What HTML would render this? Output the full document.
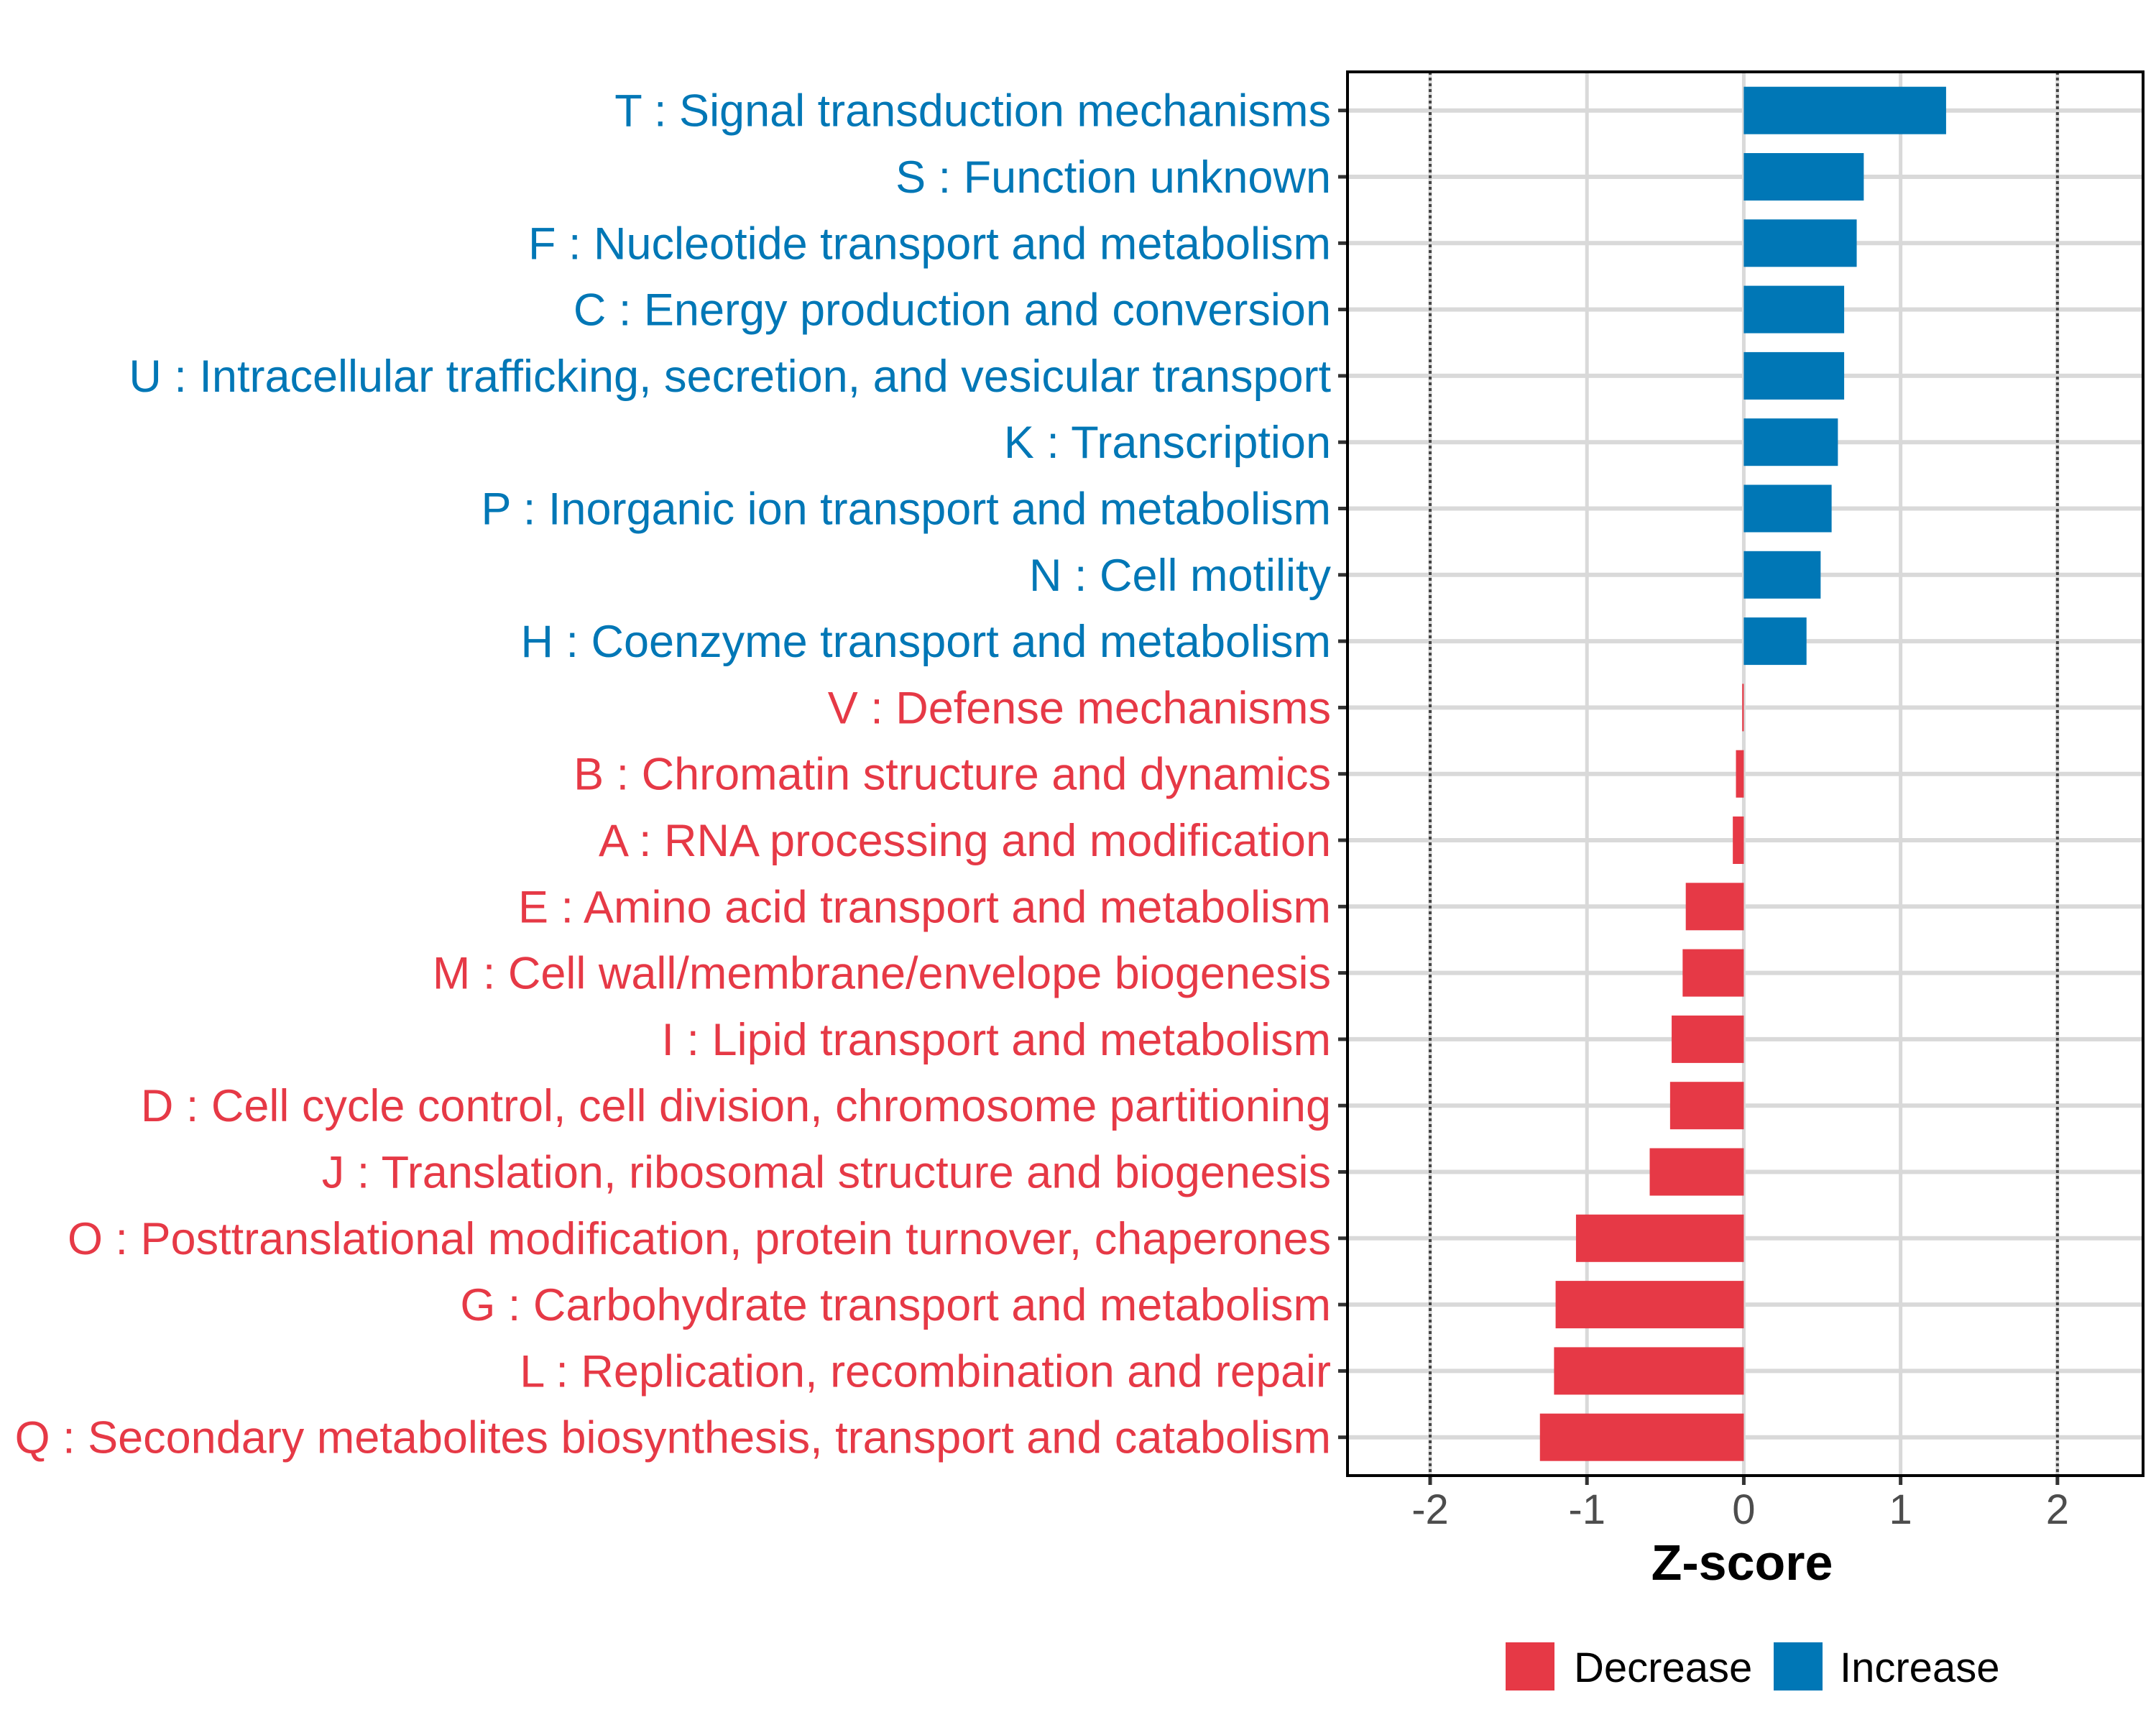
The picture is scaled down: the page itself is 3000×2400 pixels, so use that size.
<!DOCTYPE html>
<html><head><meta charset="utf-8"><style>
html,body{margin:0;padding:0;background:#fff;}
svg{display:block;font-family:"Liberation Sans",sans-serif;}
</style></head><body>
<svg id="chart" width="3000" height="2400" viewBox="0 0 3000 2400" xmlns="http://www.w3.org/2000/svg">
<rect width="3000" height="2400" fill="#fff"/>
<g id="grid"></g>
<g id="bars"></g>
<g id="ylabels"></g>
<g id="xaxis"></g>
</svg>
<script>
const categories = ["T : Signal transduction mechanisms","S : Function unknown","F : Nucleotide transport and metabolism","C : Energy production and conversion","U : Intracellular trafficking, secretion, and vesicular transport","K : Transcription","P : Inorganic ion transport and metabolism","N : Cell motility","H : Coenzyme transport and metabolism","V : Defense mechanisms","B : Chromatin structure and dynamics","A : RNA processing and modification","E : Amino acid transport and metabolism","M : Cell wall/membrane/envelope biogenesis","I : Lipid transport and metabolism","D : Cell cycle control, cell division, chromosome partitioning","J : Translation, ribosomal structure and biogenesis","O : Posttranslational modification, protein turnover, chaperones","G : Carbohydrate transport and metabolism","L : Replication, recombination and repair","Q : Secondary metabolites biosynthesis, transport and catabolism"];
const zscores = [1.29,0.765,0.72,0.64,0.64,0.60,0.56,0.49,0.40,-0.01,-0.05,-0.07,-0.37,-0.39,-0.46,-0.47,-0.60,-1.07,-1.20,-1.21,-1.30];
const xTicks = [-2,-1,0,1,2];
const xTickLabels = ["-2","-1","0","1","2"];
const refLines = [-2,2];

const NS="http://www.w3.org/2000/svg";
const PL=1875,PR=2982,PT=100,PB=2053;
const XMIN=-2.527,XMAX=2.546;
const BLUE="#0077b6",RED="#e63946";
function x(v){return PL+(v-XMIN)/(XMAX-XMIN)*(PR-PL);}
const rowTop=153.7,rowStep=92.3;
function y(i){return rowTop+i*rowStep;}
function mk(tag,attrs,parent){const e=document.createElementNS(NS,tag);for(const k in attrs)e.setAttribute(k,attrs[k]);parent.appendChild(e);return e;}
const grid=document.getElementById('grid'),bars=document.getElementById('bars'),yl=document.getElementById('ylabels'),xa=document.getElementById('xaxis'),svg=document.getElementById('chart');

categories.forEach((c,i)=>{
  const l=mk('line',{x1:PL,x2:PR,y1:y(i),y2:y(i),stroke:'#d9d9d9','stroke-width':6},grid);
  
  
});
xTicks.forEach(t=>{
  const l=mk('line',{x1:x(t),x2:x(t),y1:PT,y2:PB,stroke:'#d9d9d9','stroke-width':5},grid);
  
  
});
refLines.forEach(t=>{
  const l=mk('line',{x1:x(t),x2:x(t),y1:PT,y2:PB,stroke:'#444','stroke-width':4,'stroke-dasharray':'4 4'},grid);
  
  
});
zscores.forEach((v,i)=>{
  const x0=x(Math.min(0,v)),x1=x(Math.max(0,v));
  const r=mk('rect',{x:x0,y:y(i)-33,width:Math.max(x1-x0,1.5),height:66,fill:v>=0?BLUE:RED},bars);
  
  
});
const border=mk('rect',{x:PL,y:PT,width:PR-PL,height:PB-PT,fill:'none',stroke:'#000','stroke-width':4},svg);


categories.forEach((c,i)=>{
  const tk=mk('line',{x1:PL-13,x2:PL,y1:y(i),y2:y(i),stroke:'#333','stroke-width':5},yl);
  
  
  const t=mk('text',{x:1852,y:y(i)+22,'text-anchor':'end','font-size':63,fill:zscores[i]>=0?BLUE:RED},yl);
  t.textContent=c;
  
  
});
xTicks.forEach((t,i)=>{
  const tk=mk('line',{x1:x(t),x2:x(t),y1:PB,y2:PB+13,stroke:'#333','stroke-width':5},xa);
  
  
  const lb=mk('text',{x:x(t),y:2120,'text-anchor':'middle','font-size':58,fill:'#4d4d4d'},xa);
  lb.textContent=xTickLabels[i];
  
  
});
const title=document.createElementNS(NS,'text');
title.setAttribute('x',2424);title.setAttribute('y',2198);title.setAttribute('text-anchor','middle');
title.setAttribute('font-size',70);title.setAttribute('font-weight','bold');
title.textContent='Z-score';


svg.appendChild(title);
const leg=mk('g',{},svg);


[[2095,RED,'Decrease',2190],[2468,BLUE,'Increase',2560]].forEach(([bx,col,lab,tx])=>{
  const b=mk('rect',{x:bx,y:2285,width:68,height:67,fill:col},leg);
  
  
  const t=mk('text',{x:tx,y:2340,'font-size':58,fill:'#000'},leg);
  t.textContent=lab;
  
  
});
</script>
</body></html>
